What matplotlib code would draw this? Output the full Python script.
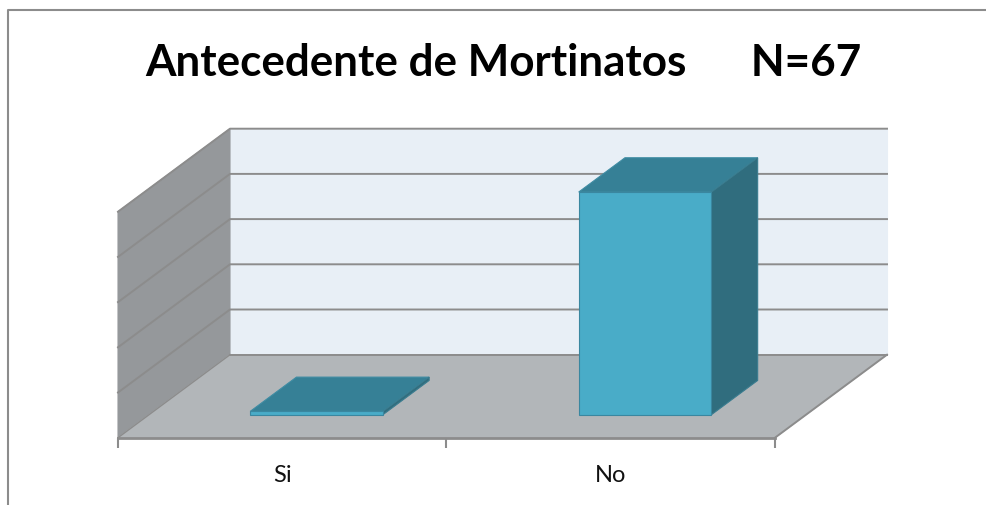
import matplotlib
matplotlib.use("Agg")
import matplotlib.pyplot as plt
from matplotlib.patches import Polygon

# --- DATA ---
categorias = ["Si", "No"]
valores = [1, 67]
n_intervalos = 5
eje_max = 68
titulo = "Antecedente de Mortinatos      N=67"

# --- CONFIGURATION ---
W, H = 987, 506
X0, X1, Y0, Y1 = 118, 775, 438.7, 212.7   # plano frontal en pixeles
DX, DY = 112, 83                          # profundidad del grafico 3D
GRIS = "#8c8c8c"

fig = plt.figure(figsize=(W / 100, H / 100), dpi=100)
ax = fig.add_axes([X0 / W, 1 - Y0 / H, (X1 - X0) / W, (Y0 - Y1) / H])
ax.set_xlim(0, len(categorias))
ax.set_ylim(0, eje_max)
ax.patch.set_alpha(0)

ux = (X1 - X0) / len(categorias)
uy = (Y0 - Y1) / eje_max


def proy(x, v, d):
    # pasa (categoria, valor, profundidad 0-1) a coordenadas del eje
    return (x + d * DX / ux, v + d * DY / uy)


def cara(puntos, color, borde=None, z=2, lw=0.8):
    p = Polygon([proy(*q) for q in puntos], closed=True, facecolor=color,
                edgecolor=borde if borde else color, linewidth=lw,
                clip_on=False, zorder=z)
    ax.add_patch(p)


# paredes y piso
nc = len(categorias)
cara([(0, 0, 1), (nc, 0, 1), (nc, eje_max, 1), (0, eje_max, 1)], "#e8eff6", z=1)
cara([(0, 0, 0), (0, 0, 1), (0, eje_max, 1), (0, eje_max, 0)], "#95989b", z=1)
cara([(0, 0, 0), (nc, 0, 0), (nc, 0, 1), (0, 0, 1)], "#b2b6b9", z=1)

# lineas de la reticula
for i in range(n_intervalos + 1):
    v = eje_max * i / n_intervalos
    xs, ys = zip(proy(0, v, 0), proy(0, v, 1), proy(nc, v, 1))
    if i == 0:
        ax.plot(xs[1:], ys[1:], color=GRIS, lw=1.4, clip_on=False, zorder=1.5)
    else:
        ax.plot(xs, ys, color=GRIS, lw=1.4, clip_on=False, zorder=1.5)
xs, ys = zip(proy(nc, 0, 0), proy(nc, 0, 1))
ax.plot(xs, ys, color=GRIS, lw=1.4, clip_on=False, zorder=1.5)
xs, ys = zip(proy(0, 0, 0), proy(0, 0, 1))
ax.plot(xs, ys, color=GRIS, lw=1.0, clip_on=False, zorder=1.5)

# barras
ancho = 0.404
d0, d1 = 0.277, 0.69
for i, val in enumerate(valores):
    c = i + 0.5 + 0.010
    a, b = c - ancho / 2, c + ancho / 2
    cara([(a, val, d0), (b, val, d0), (b, val, d1), (a, val, d1)], "#368096", "#3f8ca3", z=3)
    cara([(b, 0, d0), (b, 0, d1), (b, val, d1), (b, val, d0)], "#306d7e", "#3a7c8f", z=3)
    cara([(a, 0, d0), (b, 0, d0), (b, val, d0), (a, val, d0)], "#49acc8", "#3a87a0", z=4)

# ejes
for s in ["top", "left", "right"]:
    ax.spines[s].set_visible(False)
ax.spines["bottom"].set_color(GRIS)
ax.spines["bottom"].set_linewidth(2)
ax.set_yticks([])
ax.set_xticks(range(nc + 1))
ax.set_xticklabels([])
ax.set_xticks([i + 0.5 for i in range(nc)], minor=True)
ax.set_xticklabels(categorias, minor=True, fontsize=17, family="Lato", color="#111111")
ax.tick_params(axis="x", which="major", length=7, width=1.5, color=GRIS)
ax.tick_params(axis="x", which="minor", length=0, pad=19)

fig.text(503.5 / W, 1 - 63 / H, titulo, fontsize=31.7, fontweight="bold", family="Lato",
         ha="center", va="center", color="black")

# marco exterior
fig.add_artist(plt.Line2D([8.5 / W, 8.5 / W, 1], [0, 1 - 11 / H, 1 - 11 / H],
                          color=GRIS, lw=1.5))

fig.savefig("out.png", dpi=100)
